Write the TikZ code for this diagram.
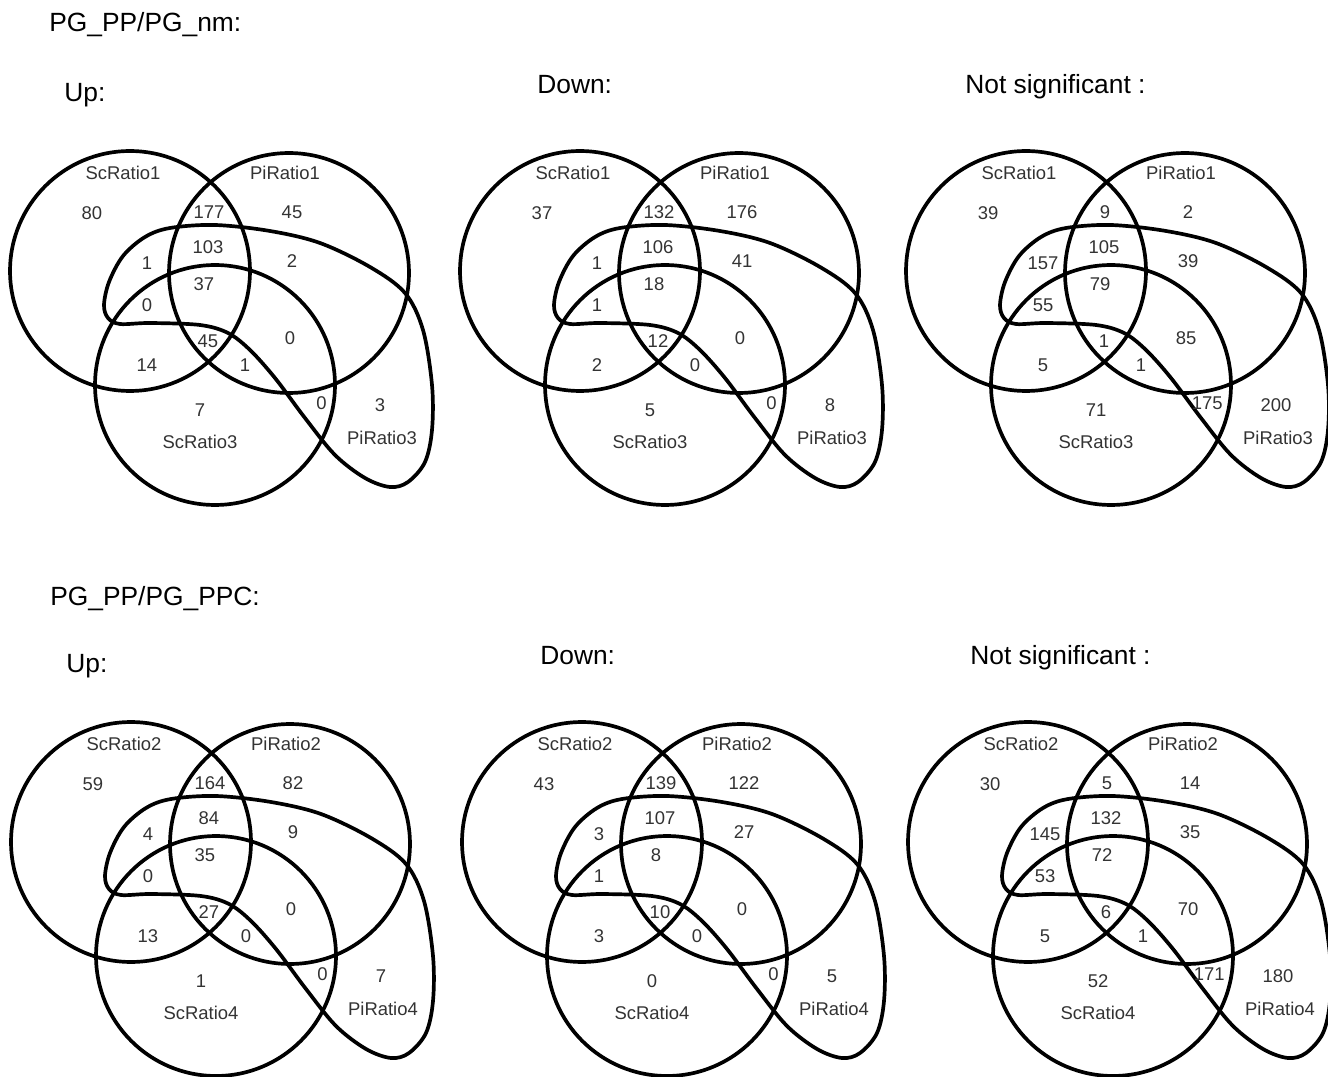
\documentclass[tikz,border=0pt]{standalone}
\usepackage{fontspec}
\setmainfont{Liberation Sans}
\tikzset{
  set/.style ={line width=2.1pt},
  num/.style ={font=\fontsize{10.5}{12}\selectfont,inner sep=0pt,text=black!80},
  lbl/.style ={font=\fontsize{10.5}{12}\selectfont,inner sep=0pt,text=black!80},
  head/.style={font=\fontsize{15}{18}\selectfont,anchor=base west,inner sep=0pt},
}
\begin{document}
\begin{tikzpicture}[x=0.02cm,y=-0.02cm]
  \useasboundingbox (0,0) rectangle (1328,1077);
  % headings
  \node[head] (pgnm)  at (49,32)   {PG\_PP/PG\_nm:};
  \node[head] (up1)   at (64,102)  {Up:};
  \node[head] (down1) at (537,94)  {Down:};
  \node[head] (ns1)   at (965,94)  {Not significant :};
  \node[head] (pgppc) at (50,605)  {PG\_PP/PG\_PPC:};
  \node[head] (up2)   at (66,672)  {Up:};
  \node[head] (down2) at (540,664) {Down:};
  \node[head] (ns2)   at (970,664) {Not significant :};

  % six four-set venn diagrams
  \foreach \dx/\dy/\m/\n/\vals [count=\k] in {
      0/0/1/3/{80,177,45,1,103,2,0,37,45,0,14,1,7,0,3},
      450/0/1/3/{37,132,176,1,106,41,1,18,12,0,2,0,5,0,8},
      896/0/1/3/{39,9,2,157,105,39,55,79,1,85,5,1,71,175,200},
      1/571/2/4/{59,164,82,4,84,9,0,35,27,0,13,0,1,0,7},
      452/571/2/4/{43,139,122,3,107,27,1,8,10,0,3,0,0,0,5},
      898/571/2/4/{30,5,14,145,132,35,53,72,6,70,5,1,52,171,180}}{
    \begin{scope}[shift={(\dx,\dy)}]
      \draw[set] (130,271) circle[radius=2.4cm];
      \draw[set] (289,273) circle[radius=2.4cm];
      \draw[set] (215,385) circle[radius=2.4cm];
      \draw[set] plot[smooth cycle,tension=0.55] coordinates {
        (104,305) (109,282) (123,256) (145,237) (170,228) (215,225)
        (270,231) (320,243) (370,267) (405,293) (423,330) (432,385)
        (432,430) (425,462) (408,482) (390,487) (365,478) (335,455)
        (305,418) (275,378) (250,350) (228,333) (200,325) (150,323)
        (120,324) (108,318)};
      \node[lbl] (sca\k) at (123,173) {ScRatio\m};
      \node[lbl] (pia\k) at (285,173) {PiRatio\m};
      \node[lbl] (scb\k) at (200,442) {ScRatio\n};
      \node[lbl] (pib\k) at (382,438) {PiRatio\n};
      \foreach \px/\py [count=\r] in {92/213,209/212,292/212,147/263,208/247,
          292/261,147/305,204/284,208/341,290/338,147/365,245/365,200/410,
          327/403,380/405}
        \coordinate (p\k-\r) at (\px,\py);
      \foreach \v [count=\r] in \vals {
        \ifnum\r=14
          \node[num,anchor=east] (v\k-\r) at (p\k-\r) {\v};
        \else
          \node[num] (v\k-\r) at (p\k-\r) {\v};
        \fi
      }
    \end{scope}
  }
\end{tikzpicture}
\end{document}
